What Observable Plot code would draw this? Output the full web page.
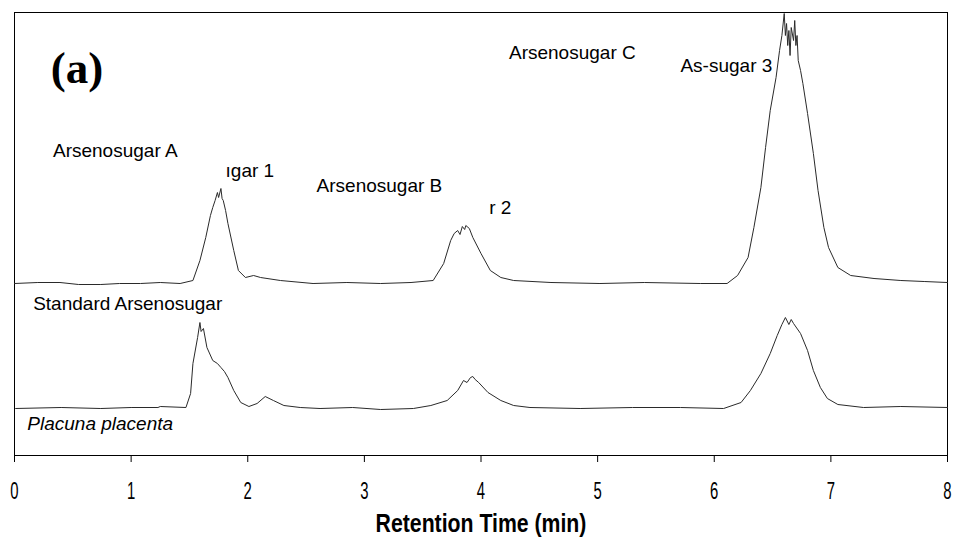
<!DOCTYPE html>
<html>
<head>
<meta charset="utf-8">
<script src="https://cdn.jsdelivr.net/npm/d3@7"></script>
<script src="https://cdn.jsdelivr.net/npm/@observablehq/plot@0.6"></script>
<style>
  html, body { margin: 0; padding: 0; background: #fff; }
  #chart { width: 954px; height: 538px; }
</style>
</head>
<body>
<div id="chart"></div>
<script>
// Standard Arsenosugar trace (upper)
const stdTime = [0.00,0.20,0.39,0.55,0.74,0.90,1.08,1.25,1.42,1.53,1.59,1.64,1.68,1.70,1.72,1.74,1.75,1.77,1.78,1.79,1.81,1.83,1.88,1.92,1.98,2.05,2.11,2.28,2.56,2.85,3.14,3.40,3.59,3.68,3.74,3.77,3.80,3.82,3.84,3.86,3.87,3.90,3.93,4.00,4.08,4.17,4.28,4.60,5.02,5.40,5.88,6.11,6.20,6.29,6.34,6.40,6.44,6.48,6.53,6.56,6.58,6.60,6.61,6.62,6.63,6.64,6.65,6.66,6.68,6.69,6.70,6.71,6.72,6.74,6.76,6.80,6.85,6.89,6.94,6.98,7.06,7.17,7.37,7.60,7.80,8.00];
const stdSignal = [172,173,173,171,171,172,172,173,172,175,195,218,240,248,255,263,258,267,257,255,245,232,205,185,178,180,178,175,172,173,172,173,175,192,215,222,225,221,229,226,230,227,218,202,185,178,175,173,172,173,172,172,180,198,228,268,308,345,378,405,420,442,420,432,410,425,400,428,415,435,410,420,395,385,372,342,302,265,228,208,188,180,177,175,174,173];

// Placuna placenta trace (lower)
const ppTime = [0.01,0.40,0.74,1.00,1.23,1.25,1.47,1.51,1.53,1.57,1.59,1.60,1.62,1.65,1.70,1.74,1.77,1.80,1.83,1.88,1.94,2.01,2.08,2.15,2.22,2.31,2.45,2.62,2.90,3.14,3.42,3.57,3.71,3.80,3.85,3.88,3.91,3.93,3.95,3.98,4.06,4.17,4.28,4.42,4.85,5.30,5.71,6.08,6.23,6.31,6.40,6.48,6.54,6.58,6.61,6.64,6.66,6.68,6.74,6.80,6.85,6.91,6.97,7.06,7.28,7.60,8.00];
const ppSignal = [47,48,47,48,48,49,48,62,92,118,133,124,127,108,95,92,88,84,78,65,53,49,52,59,55,50,48,47,48,46,47,50,55,65,75,73,78,79,76,73,63,55,50,48,47,48,48,47,53,65,82,102,120,131,138,131,136,132,122,105,85,68,57,51,48,49,48];

// Annotation labels
const peakLabels = ["Arsenosugar A", "\u0131gar 1", "Arsenosugar B", "r 2", "Arsenosugar C", "As-sugar 3", "Standard Arsenosugar"];
const peakLabelX = [0.33, 1.81, 2.59, 4.07, 4.24, 5.71, 0.16];
const peakLabelY = [305, 285, 270, 248, 403, 390, 152];
const sampleLabel = ["Placuna placenta"];
const sampleLabelX = [0.11];
const sampleLabelY = [32];
const panelLabel = ["(a)"];
const panelLabelX = [0.31];
const panelLabelY = [387];

const xTicks = [0,1,2,3,4,5,6,7,8];
const xTitle = "Retention Time (min)";

const std = stdTime.map((t, i) => ({t, v: stdSignal[i]}));
const pp = ppTime.map((t, i) => ({t, v: ppSignal[i]}));
const labels = peakLabels.map((s, i) => ({s, x: peakLabelX[i], y: peakLabelY[i]}));

const chart = Plot.plot({
  width: 954,
  height: 538,
  marginLeft: 14,
  marginRight: 7,
  marginTop: 12,
  marginBottom: 83,
  style: {background: "#fff", color: "#000"},
  x: {domain: [0, 8], ticks: xTicks, tickSize: 7, tickPadding: 19, label: xTitle, labelAnchor: "center", labelOffset: 76},
  y: {domain: [0, 443], axis: null},
  marks: [
    Plot.frame({stroke: "#000", strokeWidth: 1}),
    Plot.line(std, {x: "t", y: "v", stroke: "#2a2a2a", strokeWidth: 1}),
    Plot.line(pp, {x: "t", y: "v", stroke: "#2a2a2a", strokeWidth: 1}),
    Plot.text(labels, {x: "x", y: "y", text: "s", textAnchor: "start", fontSize: 19, fontFamily: "Liberation Sans, Arial, sans-serif", fill: "#000"}),
    Plot.text(sampleLabel, {x: sampleLabelX, y: sampleLabelY, text: d => d, textAnchor: "start", fontSize: 19, fontStyle: "italic", fontFamily: "Liberation Sans, Arial, sans-serif", fill: "#000"}),
    Plot.text(panelLabel, {x: panelLabelX, y: panelLabelY, text: d => d, textAnchor: "start", fontSize: 45, fontWeight: "bold", fontFamily: "Liberation Serif, Times New Roman, serif", fill: "#000"})
  ]
});

const svg = d3.select(chart);
svg.selectAll("[aria-label='x-axis tick label'] text")
  .style("font-family", "'Liberation Sans', Arial, sans-serif")
  .style("font-size", "24px")
  .attr("transform", function() { return (this.getAttribute("transform") || "") + " scale(0.62,1)"; });
svg.selectAll("[aria-label='x-axis label'] text")
  .text(xTitle)
  .style("font-family", "'Liberation Sans', Arial, sans-serif")
  .style("font-size", "25px")
  .style("font-weight", "bold")
  .attr("transform", function() { return (this.getAttribute("transform") || "") + " scale(0.85,1)"; });
svg.selectAll("[aria-label='x-axis tick'] path").attr("stroke", "#000");

document.getElementById("chart").appendChild(chart);
</script>
</body>
</html>
